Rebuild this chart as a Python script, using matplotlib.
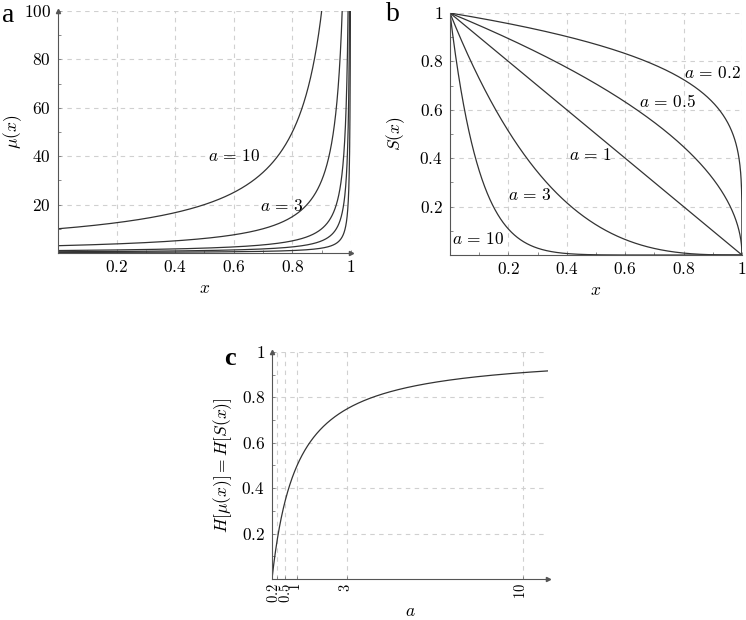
import numpy as np
import matplotlib
matplotlib.use("Agg")
import matplotlib.pyplot as plt
import matplotlib.transforms as mtransforms
from matplotlib.ticker import MultipleLocator

plt.rcParams['mathtext.fontset'] = 'cm'
plt.rcParams['font.family'] = ['Liberation Serif', 'DejaVu Serif']

# shape parameters of the curves
a_values = [0.2, 0.5, 1, 3, 10]

# panel a: labelled curves and label positions (data coords)
mu_labels = {10: (0.60, 39.5), 3: (0.765, 19.0)}
# panel b: label positions
s_labels = {0.2: (0.90, 0.75), 0.5: (0.745, 0.63), 1: (0.48, 0.41),
            3: (0.275, 0.245), 10: (0.095, 0.06)}

mu_xticks = [0.2, 0.4, 0.6, 0.8, 1]
mu_yticks = [20, 40, 60, 80, 100]
s_ticks = [0.2, 0.4, 0.6, 0.8, 1]
h_xticks = [0.2, 0.5, 1, 3, 10]
h_yticks = [0.2, 0.4, 0.6, 0.8, 1]

LINE = '#333333'
GRID = '#d0d0d0'
FS = 12.5


def fmt(v):
    return '$%g$' % v


def lab(a):
    return r'$a\,=\,%g$' % a


def style(ax, xt, yt, arrows=True):
    for s in ['top', 'right']:
        ax.spines[s].set_visible(False)
    for s in ['left', 'bottom']:
        ax.spines[s].set_linewidth(0.8)
        ax.spines[s].set_color('#555555')
    ax.set_xticks(xt)
    ax.set_xticklabels([fmt(v) for v in xt])
    ax.set_yticks(yt)
    ax.set_yticklabels([fmt(v) for v in yt])
    ax.tick_params(which='both', direction='in', length=2.5, width=0.6,
                   color='#777777', labelsize=FS, pad=5)
    ax.tick_params(which='minor', length=2)
    ax.grid(True, which='major', ls=(0, (4, 4)), color=GRID, lw=0.8)
    ax.set_axisbelow(True)
    if arrows:
        ax.plot(1, 0, '>', color='#555555', ms=3, transform=ax.transAxes, clip_on=False)
        ax.plot(0, 1, '^', color='#555555', ms=3, transform=ax.transAxes, clip_on=False)


fig = plt.figure(figsize=(7.46, 6.2), dpi=100)

# panel a: mu(x) = a / (1 - x)
axa = fig.add_axes([0.0777, 0.592, 0.3928, 0.3903])
x = np.sort(1 - np.logspace(-5, 0, 3000))
for a in a_values:
    axa.plot(x, a / (1 - x), color=LINE, lw=0.9)
axa.set_xlim(0, 1)
axa.set_ylim(0, 100)
style(axa, mu_xticks, mu_yticks)
axa.xaxis.set_minor_locator(MultipleLocator(0.1))
axa.yaxis.set_minor_locator(MultipleLocator(10))
for a, (lx, ly) in mu_labels.items():
    axa.text(lx, ly, lab(a), fontsize=FS, ha='center', va='center')
axa.set_xlabel('$x$', fontsize=FS)
axa.set_ylabel(r'$\mu(x)$', fontsize=FS)
axa.xaxis.set_label_coords(0.5, -0.115)
axa.yaxis.set_label_coords(-0.117, 0.5)
fig.text(0.003, 0.975, 'a', fontsize=20, va='center')

# panel b: S(x) = (1 - x)^a
axb = fig.add_axes([0.6032, 0.5887, 0.3914, 0.3903])
xs = np.linspace(0, 1, 2000)
for a in a_values:
    axb.plot(xs, (1 - xs) ** a, color=LINE, lw=0.9)
axb.set_xlim(0, 1)
axb.set_ylim(0, 1)
style(axb, s_ticks, s_ticks, arrows=False)
axb.xaxis.set_minor_locator(MultipleLocator(0.1))
axb.yaxis.set_minor_locator(MultipleLocator(0.1))
for a, (lx, ly) in s_labels.items():
    axb.text(lx, ly, lab(a), fontsize=FS, ha='center', va='center')
axb.set_xlabel('$x$', fontsize=FS)
axb.set_ylabel('$S(x)$', fontsize=FS)
axb.xaxis.set_label_coords(0.5, -0.115)
axb.yaxis.set_label_coords(-0.146, 0.5)
fig.text(0.517, 0.977, 'b', fontsize=20, va='center')

# panel c: H = a / (1 + a)
axc = fig.add_axes([0.3646, 0.0661, 0.37, 0.3662])
av = np.linspace(0, 11, 2000)
axc.plot(av, av / (1 + av), color=LINE, lw=0.9)
axc.set_xlim(0, 11)
axc.set_ylim(0, 1)
style(axc, h_xticks, h_yticks)
axc.yaxis.set_minor_locator(MultipleLocator(0.1))
axc.tick_params(axis='x', pad=3, labelsize=10.5, labelrotation=90)
# crowded rotated labels near zero: nudge them apart a little
for t, dx in zip(axc.get_xticklabels(), [-3.5, 0.5, -2, -2, -2]):
    t.set_transform(t.get_transform() + mtransforms.ScaledTranslation(dx / 100, 0, fig.dpi_scale_trans))
axc.set_xlabel('$a$', fontsize=FS)
axc.set_ylabel(r'$H[\mu(x)] = H[S(x)]$', fontsize=FS)
axc.xaxis.set_label_coords(0.5, -0.112)
axc.yaxis.set_label_coords(-0.137, 0.5)
fig.text(0.300, 0.422, 'c', fontsize=19, fontweight='bold', va='center')

fig.savefig('out.png', dpi=100)
